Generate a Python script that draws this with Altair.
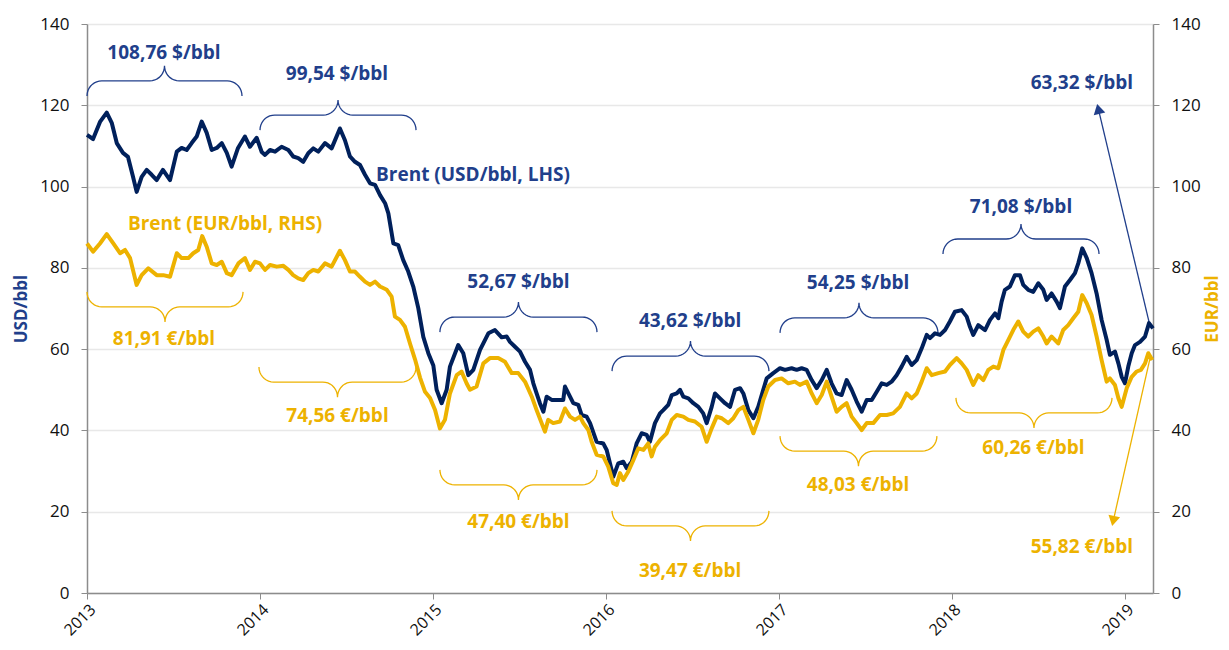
import altair as alt
import pandas as pd
import numpy as np

# ---------------- data ----------------
usd_t = [2013.000, 2013.035, 2013.075, 2013.114, 2013.143, 2013.172, 2013.208, 2013.237, 2013.266, 2013.287,
         2013.316, 2013.345, 2013.374, 2013.403, 2013.439, 2013.480, 2013.519, 2013.547, 2013.576, 2013.605,
         2013.634, 2013.663, 2013.692, 2013.721, 2013.750, 2013.779, 2013.808, 2013.836, 2013.873, 2013.913,
         2013.942, 2013.981,
         2014.010, 2014.029, 2014.058, 2014.087, 2014.125, 2014.164, 2014.192, 2014.221, 2014.250, 2014.279,
         2014.308, 2014.337, 2014.376, 2014.414, 2014.462, 2014.491, 2014.520, 2014.549, 2014.578, 2014.607,
         2014.636, 2014.665, 2014.694, 2014.723, 2014.742, 2014.771, 2014.799, 2014.828, 2014.857, 2014.886,
         2014.915, 2014.944, 2014.973,
         2015.002, 2015.021, 2015.050, 2015.079, 2015.098, 2015.146, 2015.175, 2015.204, 2015.233, 2015.272,
         2015.320, 2015.358, 2015.397, 2015.426, 2015.445, 2015.474, 2015.503, 2015.532, 2015.561, 2015.580,
         2015.599, 2015.618, 2015.638, 2015.657, 2015.686, 2015.724, 2015.753, 2015.763, 2015.792, 2015.811,
         2015.840, 2015.859, 2015.888, 2015.908, 2015.946, 2015.984,
         2016.004, 2016.023, 2016.042, 2016.071, 2016.100, 2016.120, 2016.149, 2016.177, 2016.206, 2016.235,
         2016.254, 2016.283, 2016.312, 2016.331, 2016.360, 2016.380, 2016.409, 2016.428, 2016.447, 2016.476,
         2016.505, 2016.534, 2016.562, 2016.582, 2016.611, 2016.630, 2016.659, 2016.688, 2016.717, 2016.746,
         2016.775, 2016.794, 2016.823, 2016.852, 2016.880, 2016.909, 2016.929, 2016.967,
         2017.006, 2017.035, 2017.073, 2017.102, 2017.131, 2017.160, 2017.189, 2017.218, 2017.247, 2017.276,
         2017.304, 2017.333, 2017.362, 2017.391, 2017.420, 2017.449, 2017.478, 2017.507, 2017.536, 2017.565,
         2017.594, 2017.623, 2017.651, 2017.680, 2017.709, 2017.738, 2017.767, 2017.796, 2017.825, 2017.854,
         2017.873, 2017.902, 2017.931, 2017.960, 2017.988,
         2018.017, 2018.056, 2018.085, 2018.104, 2018.123, 2018.152, 2018.191, 2018.220, 2018.249, 2018.268,
         2018.287, 2018.306, 2018.335, 2018.364, 2018.393, 2018.412, 2018.441, 2018.470, 2018.499, 2018.528,
         2018.547, 2018.576, 2018.605, 2018.624, 2018.653, 2018.682, 2018.711, 2018.730, 2018.753, 2018.779,
         2018.807, 2018.836, 2018.865, 2018.894, 2018.913, 2018.942, 2018.962, 2018.981,
         2019.000, 2019.019, 2019.039, 2019.058, 2019.087, 2019.116, 2019.139, 2019.162]
usd_v = [112.7, 111.7, 115.9, 118.2, 115.7, 110.7, 108.3, 107.3, 102.4, 98.7,
         102.4, 104.1, 102.9, 101.6, 104.1, 101.6, 108.6, 109.5, 109.0, 110.7,
         112.3, 116.0, 113.2, 109.0, 109.5, 110.7, 108.3, 104.9, 109.5, 112.3,
         109.8, 112.0,
         108.5, 107.8, 109.0, 108.6, 109.8, 109.0, 107.4, 107.0, 106.1, 108.2,
         109.4, 108.6, 110.7, 109.4, 114.3, 111.4, 107.4, 106.1, 105.3, 102.9,
         100.8, 100.4, 97.9, 95.9, 93.4, 86.0, 85.6, 81.9, 79.1, 75.4,
         70.1, 63.0, 59.0,
         56.0, 50.0, 46.7, 50.0, 55.7, 61.0, 59.0, 53.6, 54.9, 59.8,
         63.9, 64.7, 62.9, 63.1, 61.8, 60.6, 59.4, 56.9, 54.9, 51.6,
         49.1, 46.7, 44.6, 48.3, 47.5, 47.5, 47.5, 50.8, 48.3, 46.7,
         46.3, 43.8, 43.4, 41.8, 37.2, 36.8,
         35.2, 31.9, 28.6, 31.9, 32.3, 30.7, 32.3, 36.8, 39.3, 38.9,
         37.2, 41.8, 44.2, 45.0, 46.3, 48.7, 49.1, 50.0, 48.3, 47.9,
         46.7, 45.8, 44.2, 41.8, 45.8, 49.1, 47.9, 46.7, 45.8, 50.0,
         50.4, 49.1, 45.0, 43.0, 45.8, 50.0, 52.8, 54.1,
         55.3, 54.9, 55.3, 54.9, 55.3, 54.9, 52.4, 50.4, 52.4, 54.9,
         51.6, 49.1, 48.7, 52.4, 50.0, 47.1, 44.6, 47.5, 47.5, 49.5,
         51.6, 51.2, 52.0, 53.6, 55.7, 58.1, 56.1, 57.3, 60.2, 63.5,
         62.7, 63.9, 63.5, 64.7, 66.8,
         69.2, 69.6, 68.0, 65.5, 63.5, 65.9, 64.7, 67.2, 68.8, 67.6,
         71.7, 74.6, 75.4, 78.2, 78.2, 75.8, 74.6, 74.1, 76.2, 74.6,
         72.1, 73.7, 71.7, 70.1, 75.4, 77.0, 78.7, 81.1, 84.8, 82.4,
         78.7, 73.7, 67.2, 62.3, 58.6, 59.4, 56.5, 53.2,
         51.6, 55.7, 59.0, 61.0, 61.8, 63.1, 66.4, 65.1]

eur_t = [2013.000, 2013.035, 2013.075, 2013.114, 2013.152, 2013.191, 2013.220, 2013.249, 2013.287, 2013.316,
         2013.354, 2013.403, 2013.441, 2013.480, 2013.519, 2013.547, 2013.586, 2013.614, 2013.643, 2013.666,
         2013.692, 2013.721, 2013.750, 2013.779, 2013.808, 2013.836, 2013.875, 2013.913, 2013.942, 2013.971,
         2014.000, 2014.029, 2014.058, 2014.097, 2014.135, 2014.164, 2014.192, 2014.221, 2014.250, 2014.279,
         2014.308, 2014.337, 2014.376, 2014.414, 2014.462, 2014.491, 2014.520, 2014.549, 2014.578, 2014.607,
         2014.636, 2014.665, 2014.694, 2014.733, 2014.761, 2014.780, 2014.809, 2014.838, 2014.867, 2014.896,
         2014.925, 2014.954, 2014.983,
         2015.012, 2015.040, 2015.069, 2015.098, 2015.137, 2015.165, 2015.194, 2015.214, 2015.252, 2015.291,
         2015.329, 2015.377, 2015.416, 2015.455, 2015.493, 2015.532, 2015.571, 2015.599, 2015.628, 2015.647,
         2015.666, 2015.695, 2015.734, 2015.763, 2015.792, 2015.821, 2015.850, 2015.869, 2015.898, 2015.917,
         2015.946, 2015.984,
         2016.013, 2016.042, 2016.062, 2016.081, 2016.100, 2016.129, 2016.158, 2016.187, 2016.216, 2016.244,
         2016.264, 2016.283, 2016.312, 2016.351, 2016.380, 2016.409, 2016.447, 2016.476, 2016.514, 2016.553,
         2016.582, 2016.611, 2016.640, 2016.669, 2016.707, 2016.736, 2016.765, 2016.794, 2016.823, 2016.852,
         2016.880, 2016.909, 2016.938, 2016.977,
         2017.015, 2017.054, 2017.092, 2017.121, 2017.160, 2017.189, 2017.218, 2017.247, 2017.276, 2017.304,
         2017.333, 2017.362, 2017.391, 2017.420, 2017.449, 2017.478, 2017.507, 2017.545, 2017.584, 2017.623,
         2017.660, 2017.699, 2017.738, 2017.767, 2017.796, 2017.825, 2017.854, 2017.883, 2017.921, 2017.960,
         2017.988,
         2018.027, 2018.056, 2018.085, 2018.123, 2018.152, 2018.181, 2018.210, 2018.239, 2018.268, 2018.297,
         2018.326, 2018.354, 2018.383, 2018.412, 2018.441, 2018.470, 2018.499, 2018.528, 2018.547, 2018.576,
         2018.614, 2018.643, 2018.672, 2018.701, 2018.730, 2018.753, 2018.779, 2018.807, 2018.836, 2018.865,
         2018.894, 2018.913, 2018.942, 2018.962, 2018.981,
         2019.010, 2019.039, 2019.068, 2019.092, 2019.116, 2019.135, 2019.158]
eur_v = [86.0, 84.0, 86.0, 88.3, 86.0, 83.6, 84.4, 82.4, 75.8, 78.2,
         79.9, 78.2, 78.2, 77.8, 83.6, 82.4, 82.4, 83.6, 84.4, 87.8,
         85.2, 81.1, 80.7, 81.5, 78.7, 78.2, 81.1, 82.4, 79.5, 81.5,
         81.1, 79.5, 80.7, 80.3, 80.5, 79.5, 78.2, 77.4, 77.0, 78.7,
         79.5, 79.1, 81.1, 80.3, 84.2, 81.9, 79.1, 79.1, 77.8, 76.6,
         75.8, 76.6, 75.4, 74.6, 72.9, 68.0, 67.2, 65.5, 61.4, 57.5,
         53.0, 49.5, 48.0,
         45.0, 40.5, 42.6, 49.1, 53.6, 54.5, 51.6, 50.0, 50.8, 56.5,
         57.8, 57.8, 56.9, 54.1, 54.1, 52.0, 48.3, 45.0, 41.8, 39.7,
         42.6, 41.8, 42.2, 45.4, 43.4, 42.6, 43.4, 41.8, 40.1, 37.2,
         34.0, 33.6,
         31.1, 27.0, 26.6, 29.5, 27.8, 29.9, 32.7, 35.6, 35.2, 36.8,
         33.6, 36.0, 37.6, 39.3, 42.6, 43.8, 43.4, 42.6, 42.2, 40.9,
         37.2, 40.5, 43.4, 43.0, 41.8, 43.0, 45.0, 45.8, 42.6, 39.3,
         42.6, 47.5, 50.8, 52.4,
         52.8, 51.6, 52.0, 51.2, 52.0, 49.1, 46.7, 48.7, 52.0, 48.3,
         44.6, 45.8, 46.7, 43.4, 41.8, 40.1, 41.8, 41.8, 43.8, 43.8,
         44.2, 45.8, 49.1, 47.9, 49.1, 52.0, 55.3, 53.6, 54.1, 54.5,
         56.1,
         57.8, 56.5, 54.9, 51.2, 53.6, 52.4, 54.9, 55.7, 55.3, 59.8,
         62.3, 64.7, 66.8, 64.3, 63.1, 64.3, 65.1, 63.1, 61.4, 63.1,
         61.4, 64.7, 65.9, 67.6, 69.2, 73.3, 71.3, 68.4, 63.1, 57.3,
         52.0, 52.8, 51.2, 47.9, 45.8,
         50.4, 53.2, 54.5, 54.9, 56.5, 59.0, 57.3]

year_ticks = [2013, 2014, 2015, 2016, 2017, 2018, 2019]
value_ticks = [0, 20, 40, 60, 80, 100, 120, 140]

# average-price annotations
usd_labels = ["108,76 $/bbl", "99,54 $/bbl", "52,67 $/bbl", "43,62 $/bbl", "54,25 $/bbl", "71,08 $/bbl", "63,32 $/bbl"]
usd_label_x = [2013.445, 2014.445, 2015.494, 2016.486, 2017.457, 2018.399, 2018.751]
usd_label_y = [132.9, 127.7, 76.5, 66.9, 76.3, 95.0, 125.5]
eur_labels = ["81,91 €/bbl", "74,56 €/bbl", "47,40 €/bbl", "39,47 €/bbl", "48,03 €/bbl", "60,26 €/bbl", "55,82 €/bbl"]
eur_label_x = [2013.445, 2014.448, 2015.494, 2016.486, 2017.457, 2018.471, 2018.751]
eur_label_y = [62.5, 43.6, 17.5, 5.4, 26.6, 35.7, 11.3]

# braces (start, end, level of the flat part)
usd_brace_x0 = [2013.000, 2014.000, 2015.040, 2016.035, 2017.006, 2017.948]
usd_brace_x1 = [2013.896, 2014.902, 2015.948, 2016.942, 2017.919, 2018.850]
usd_brace_y = [126.0, 117.6, 67.9, 58.3, 67.7, 87.1]
eur_brace_x0 = [2013.000, 2013.994, 2015.040, 2016.035, 2017.006, 2018.023]
eur_brace_x1 = [2013.902, 2014.902, 2015.948, 2016.942, 2017.913, 2018.925]
eur_brace_y = [70.4, 51.9, 26.6, 16.5, 34.9, 44.3]

series_labels = ["Brent (USD/bbl, LHS)", "Brent (EUR/bbl, RHS)"]
series_label_x = [2015.231, 2013.798]
series_label_y = [102.9, 90.8]

# arrows to the latest values: start (x, y), head (x, y)
arrow_x = [2019.139, 2019.145]
arrow_y = [66.7, 57.8]
arrow_x2 = [2018.846, 2018.932]
arrow_y2 = [119.1, 17.7]

# ---------------- styling ----------------
NAVY = "#00205B"
NAVY_TXT = "#213F8B"
GOLD = "#EDB200"
AXIS_GREY = "#8C8C8C"
FONT = "Open Sans"

usd = pd.DataFrame({"t": usd_t, "v": usd_v})
eur = pd.DataFrame({"t": eur_t, "v": eur_v})


def brace(x0, x1, yf, d, r=0.085, n=10):
    xm = (x0 + x1) / 2
    th = np.linspace(0, np.pi / 2, n)
    pts = []
    pts += [(x0 + r * (1 - np.cos(a)), yf - d + d * np.sin(a)) for a in th]
    pts += [(xm - r + r * np.sin(a), yf + d * (1 - np.cos(a))) for a in th]
    pts += [(xm + r - r * np.sin(a), yf + d * (1 - np.cos(a))) for a in th[::-1]]
    pts += [(x1 - r * (1 - np.cos(a)), yf - d + d * np.sin(a)) for a in th[::-1]]
    return pts


rows = []
for k, (a, b, y) in enumerate(zip(usd_brace_x0, usd_brace_x1, usd_brace_y)):
    for i, (px, py) in enumerate(brace(a, b, y, 3.7)):
        rows.append({"g": f"u{k}", "i": i, "x": px, "y": py, "c": "usd"})
for k, (a, b, y) in enumerate(zip(eur_brace_x0, eur_brace_x1, eur_brace_y)):
    for i, (px, py) in enumerate(brace(a, b, y, -3.7)):
        rows.append({"g": f"e{k}", "i": i, "x": px, "y": py, "c": "eur"})
braces = pd.DataFrame(rows)

labels = pd.DataFrame({
    "x": usd_label_x + eur_label_x,
    "y": usd_label_y + eur_label_y,
    "text": usd_labels + eur_labels,
    "c": ["usd"] * len(usd_labels) + ["eur"] * len(eur_labels),
})
slabels = pd.DataFrame({"x": series_label_x, "y": series_label_y, "text": series_labels, "c": ["usd", "eur"]})
arrows = pd.DataFrame({"x": arrow_x, "y": arrow_y, "x2": arrow_x2, "y2": arrow_y2, "c": ["usd", "eur"]})

xs = alt.Scale(domain=[2013, 2019.162], nice=False, zero=False)
ys = alt.Scale(domain=[0, 140], nice=False, zero=True)
cs = alt.Scale(domain=["usd", "eur"], range=[NAVY_TXT, GOLD])

x_axis = alt.Axis(values=year_ticks, format="d", labelAngle=-45, grid=False, title=None,
                  labelFont=FONT, labelFontSize=16, labelColor="#111111", labelPadding=2,
                  tickSize=6, tickColor=AXIS_GREY, domainColor=AXIS_GREY, domainWidth=1.5,
                  labelOverlap=False)

left_axis = alt.Axis(values=value_ticks, title="USD/bbl", titleColor=NAVY_TXT, titleFont=FONT,
                     titleFontSize=17, titleFontWeight="bold", titleAngle=270, titleX=-66, titleY=284.5,
                     titleAlign="center", titleBaseline="middle",
                     labelFont=FONT, labelFontSize=17, labelColor="#111111", labelPadding=12,
                     tickSize=6, tickColor=AXIS_GREY, domainColor=AXIS_GREY, domainWidth=1.5,
                     grid=True, gridColor="#E8E8E8", gridWidth=1.5)
right_axis = alt.Axis(values=value_ticks, orient="right", title="EUR/bbl", titleColor=GOLD, titleFont=FONT,
                      titleFontSize=17, titleFontWeight="bold", titleAngle=270, titleX=59, titleY=284.5,
                      titleAlign="center", titleBaseline="middle",
                      labelFont=FONT, labelFontSize=17, labelColor="#111111", labelPadding=12,
                      tickSize=6, tickColor=AXIS_GREY, domainColor=AXIS_GREY, domainWidth=1.5,
                      grid=False)

X = lambda f="t": alt.X(f"{f}:Q", scale=xs, axis=x_axis)

usd_line = alt.Chart(usd).mark_line(color=NAVY, strokeWidth=4, strokeJoin="round").encode(
    x=X("t"), y=alt.Y("v:Q", scale=ys, axis=left_axis))
eur_line = alt.Chart(eur).mark_line(color=GOLD, strokeWidth=4, strokeJoin="round").encode(
    x=X("t"), y=alt.Y("v:Q", scale=ys, axis=right_axis))

brace_layer = alt.Chart(braces).mark_line(strokeWidth=1.3).encode(
    x=X("x"), y=alt.Y("y:Q", scale=ys, axis=None),
    detail="g:N", order="i:Q",
    color=alt.Color("c:N", scale=cs, legend=None))

text_layer = alt.Chart(labels).mark_text(font=FONT, fontSize=19, fontWeight="bold",
                                         align="center", baseline="middle").encode(
    x=X("x"), y=alt.Y("y:Q", scale=ys, axis=None), text="text:N",
    color=alt.Color("c:N", scale=cs, legend=None))

series_text = alt.Chart(slabels).mark_text(font=FONT, fontSize=19, fontWeight="bold",
                                           align="center", baseline="middle").encode(
    x=X("x"), y=alt.Y("y:Q", scale=ys, axis=None), text="text:N",
    color=alt.Color("c:N", scale=cs, legend=None))

arrow_lines = alt.Chart(arrows).mark_rule(strokeWidth=1.3).encode(
    x=X("x"), y=alt.Y("y:Q", scale=ys, axis=None), x2="x2:Q", y2="y2:Q",
    color=alt.Color("c:N", scale=cs, legend=None))

heads = pd.DataFrame({"x": arrow_x2, "y": arrow_y2, "c": ["usd", "eur"],
                      "shape": ["triangle-up", "triangle-down"], "ang": [346.6, 12.0]})
arrow_heads = alt.Chart(heads).mark_point(filled=True, size=140, opacity=1).encode(
    x=X("x"), y=alt.Y("y:Q", scale=ys, axis=None),
    shape=alt.Shape("shape:N", scale=None, legend=None),
    angle=alt.Angle("ang:Q", scale=None),
    color=alt.Color("c:N", scale=cs, legend=None))

chart = alt.layer(
    brace_layer, arrow_lines, arrow_heads, text_layer, series_text, usd_line, eur_line
).resolve_scale(y="shared", color="shared").resolve_axis(y="independent").properties(
    width=1066, height=569,
    autosize=alt.AutoSizeParams(type="none"),
    padding={"left": 79, "top": 16, "right": 68, "bottom": 49},
    background="white",
).configure_view(stroke=None)

chart.save("out.html", embed_options={"renderer": "svg", "actions": False})
